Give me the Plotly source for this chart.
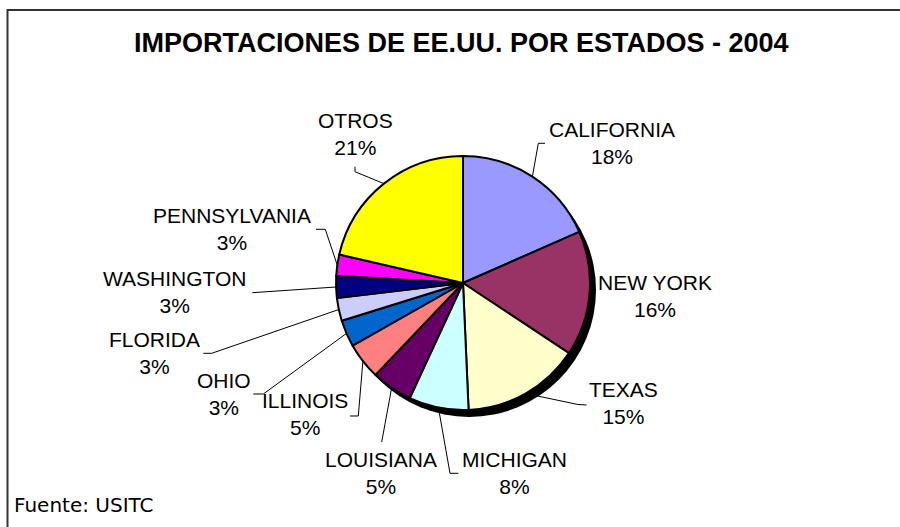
import math
import plotly.graph_objects as go

# ---------------- data ----------------
states = ["CALIFORNIA", "NEW YORK", "TEXAS", "MICHIGAN", "LOUISIANA", "ILLINOIS",
          "OHIO", "FLORIDA", "WASHINGTON", "PENNSYLVANIA", "OTROS"]
shares = [18.4, 15.9, 15.0, 7.6, 5.2, 4.7, 3.4, 2.9, 2.8, 2.7, 21.4]
colors = ["#9999FF", "#993366", "#FFFFCC", "#CCFFFF", "#660066", "#FF8080",
          "#0066CC", "#CCCCFF", "#000080", "#FF00FF", "#FFFF00"]

title = "IMPORTACIONES DE EE.UU. POR ESTADOS - 2004"
source = "Fuente: USITC"

# ---------------- layout geometry (pixels) ----------------
W, H = 900, 527
CX, CY, R = 463, 283, 127
SHADOW_DX, SHADOW_DY = 6, 7

# label block centers (pixels)
label_pos = {
    "CALIFORNIA": (612, 143),
    "NEW YORK": (655, 296),
    "TEXAS": (623.5, 403),
    "MICHIGAN": (514, 473),
    "LOUISIANA": (381, 473),
    "ILLINOIS": (304.5, 414),
    "OHIO": (223.5, 394),
    "FLORIDA": (154.5, 352.5),
    "WASHINGTON": (175, 292),
    "PENNSYLVANIA": (232, 229),
    "OTROS": (355, 134),
}
# label-side leader line points (pixels); pie end computed from data
leader_pts = {
    "CALIFORNIA": [(545, 143.3), (538.3, 143.3)],
    "TEXAS": [(586.5, 405), (578, 404.5)],
    "MICHIGAN": [(458.3, 473.3), (450, 473.3)],
    "LOUISIANA": [(381.7, 442)],
    "ILLINOIS": [(350, 416), (358.3, 416)],
    "OHIO": [(253.3, 394), (263.3, 394)],
    "FLORIDA": [(203.3, 353.3), (211.7, 353.3)],
    "WASHINGTON": [(252.3, 292.7)],
    "PENNSYLVANIA": [(316, 229.3), (325.3, 229.3)],
    "OTROS": [(355, 166.7), (355, 171.7)],
}


def px(x):
    return x / W


def py(y):
    return 1 - y / H


def dom(cx, cy):
    return dict(x=[px(cx - R), px(cx + R)], y=[py(cy + R), py(cy - R)])


fig = go.Figure()

# shadow
fig.add_trace(go.Pie(values=[1], labels=["shadow"], domain=dom(CX + SHADOW_DX, CY + SHADOW_DY),
                     marker=dict(colors=["#000000"], line=dict(color="#000000", width=0)),
                     textinfo="none", hoverinfo="skip", showlegend=False, sort=False))

# main pie
fig.add_trace(go.Pie(values=shares, labels=states, domain=dom(CX, CY),
                     marker=dict(colors=colors, line=dict(color="#000000", width=2)),
                     textinfo="none", direction="clockwise", rotation=0, sort=False,
                     showlegend=False))

total = sum(shares)
annotations = []
shapes = []
cum = 0.0
for s, v in zip(states, shares):
    mid = (cum + v / 2) / total * 2 * math.pi
    cum += v
    ex = CX + R * math.sin(mid)
    ey = CY - R * math.cos(mid)
    lx, ly = label_pos[s]
    annotations.append(dict(x=px(lx), y=py(ly), xref="paper", yref="paper",
                            text=f"{s}<br>{round(v / total * 100)}%", showarrow=False,
                            xanchor="center", yanchor="middle", align="center",
                            font=dict(family="Liberation Sans, Arial", size=21, color="#000000")))
    if s in leader_pts:
        pts = leader_pts[s] + [(ex, ey)]
        path = "M " + " L ".join(f"{px(a):.5f},{py(b):.5f}" for a, b in pts)
        shapes.append(dict(type="path", path=path, xref="paper", yref="paper",
                           line=dict(color="#000000", width=1)))

annotations.append(dict(x=px(461), y=py(42.5), xref="paper", yref="paper", text=f"<b>{title}</b>",
                        showarrow=False, xanchor="center", yanchor="middle",
                        font=dict(family="Liberation Sans, Arial", size=27, color="#000000")))
annotations.append(dict(x=px(12), y=py(505), xref="paper", yref="paper", text=source,
                        showarrow=False, xanchor="left", yanchor="middle",
                        font=dict(family="DejaVu Sans", size=20, color="#000000")))

# chart border (top and left visible)
shapes.append(dict(type="rect", xref="paper", yref="paper", x0=px(7.5), y0=-0.1, x1=1.1, y1=py(10),
                   line=dict(color="#333333", width=2), fillcolor="rgba(0,0,0,0)"))

fig.update_layout(width=W, height=H, margin=dict(l=0, r=0, t=0, b=0),
                  paper_bgcolor="#FFFFFF", plot_bgcolor="#FFFFFF",
                  annotations=annotations, shapes=shapes, showlegend=False)

fig.write_html("out.html", config={"displayModeBar": False},
               post_script="document.body.style.margin='0px';")
